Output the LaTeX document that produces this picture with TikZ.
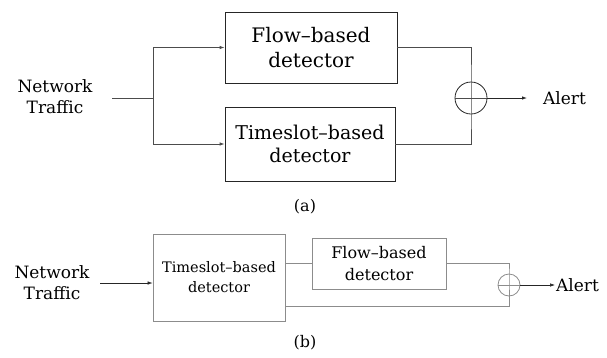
\documentclass[tikz,border=0pt]{standalone}
\usepackage{fontspec}
\setmainfont{DejaVu Serif}
\usetikzlibrary{arrows.meta}
\begin{document}
\begin{tikzpicture}[x=1pt,y=-1pt,
  lbl/.style={align=center,font=\fontsize{17}{21}\selectfont,inner sep=0pt},
  boxa/.style={draw=black!85,line width=0.8pt,align=center,inner sep=0pt},
  boxb/.style={draw=black!45,line width=0.8pt,align=center,inner sep=0pt},
  wirea/.style={draw=black!70,line width=0.8pt},
  wireb/.style={draw=black!45,line width=0.8pt},
  arr/.style={-{Latex[length=5pt,width=3.5pt]}},
  captxt/.style={font=\fontsize{16}{20}\selectfont,inner sep=0pt},
]
\useasboundingbox (0,0) rectangle (607,357);
% ---------- (a) ----------
\node[lbl] (netA) at (55,97) {Network\\Traffic};
\node[boxa,minimum width=172pt,minimum height=71pt,font=\fontsize{20}{25}\selectfont] (flowA) at (311,47.5) {Flow–based\\detector};
\node[boxa,minimum width=170pt,minimum height=74pt,font=\fontsize{19}{23}\selectfont] (tsA) at (310,144) {Timeslot–based\\detector};
\node[draw=black!85,line width=0.8pt,circle,minimum size=32pt,inner sep=0pt] (sumA) at (471,98) {};
\node[lbl,anchor=west] (alertA) at (543,98) {Alert};
\coordinate (splitA) at (153,98);
\coordinate (inA) at (112,98);
\draw[wirea] (inA) -- (splitA);
\draw[wirea,arr] (splitA) |- (flowA.west);
\draw[wirea,arr] (splitA) |- (tsA.west);
\draw[wirea] (flowA.east) -| (sumA.north) -- (sumA.south) |- (tsA.east);
\draw[wirea] (sumA.west) -- (sumA.east);
\draw[black!85,line width=0.8pt,arr] (sumA.east) -- ([xshift=-16pt]alertA.west);
\node[captxt] (capA) at (305,207) {(a)};
% ---------- (b) ----------
\node[lbl] (netB) at (52,283) {Network\\Traffic};
\node[boxb,minimum width=132pt,minimum height=87pt,font=\fontsize{14.5}{20}\selectfont] (tsB) at (219,277.5) {Timeslot–based\\detector};
\node[boxb,minimum width=134pt,minimum height=51pt,font=\fontsize{16}{22}\selectfont] (flowB) at (379,263.5) {Flow–based\\detector};
\node[draw=black!45,line width=0.8pt,circle,minimum size=22pt,inner sep=0pt] (sumB) at (509,285) {};
\node[lbl,anchor=west] (alertB) at (556,285) {Alert};
\coordinate (inB) at (100,283);
\coordinate (lowB) at (509,306);
\draw[black!85,line width=0.6pt,arr] (inB) -- (inB -| tsB.west);
\draw[wireb] (tsB.east |- flowB.west) -- (flowB.west);
\draw[wireb] (flowB.east) -| (sumB.north) -- (lowB) -- (tsB.east |- lowB);
\draw[wireb] (sumB.west) -- (sumB.east);
\draw[black!85,line width=0.6pt,arr] (sumB.east) -- ([xshift=-1pt]alertB.west);
\node[captxt] (capB) at (305,343) {(b)};
\end{tikzpicture}
\end{document}
